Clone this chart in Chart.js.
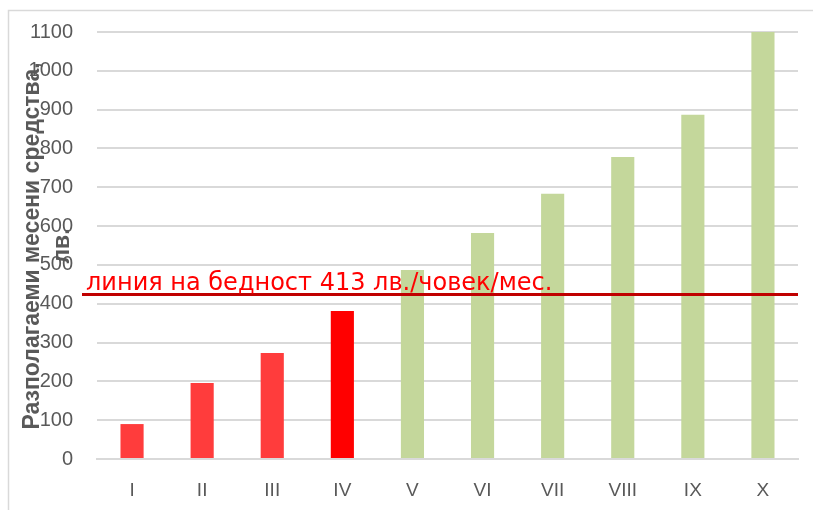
<!DOCTYPE html>
<html>
<head>
<meta charset="utf-8">
<script src="https://cdn.jsdelivr.net/npm/chart.js@4"></script>
<style>
  html, body { margin: 0; padding: 0; background: #fff; }
  #wrap { width: 813px; height: 510px; position: relative; }
</style>
</head>
<body>
<div id="wrap"><canvas id="chart" width="813" height="510"></canvas></div>
<script>
// deciles and available monthly means (lv.)
const deciles = ['I', 'II', 'III', 'IV', 'V', 'VI', 'VII', 'VIII', 'IX', 'X'];
const incomes = [90, 196, 273, 381, 487, 582, 683, 778, 887, 1100];
const barColors = ['#ff3c3c', '#ff3c3c', '#ff3c3c', '#ff0000', '#c4d79b', '#c4d79b', '#c4d79b', '#c4d79b', '#c4d79b', '#c4d79b'];
const povertyLine = 424;
const povertyLabel = 'линия на бедност 413 лв./човек/мес.';
const yTitle = ['Разполагаеми месени средства,', 'лв.'];

const FONT = '"Liberation Sans", Arial, sans-serif';

// outer frame, y title and poverty line
const extras = {
  id: 'extras',
  beforeDraw(chart) {
    const ctx = chart.ctx;
    ctx.save();
    ctx.strokeStyle = '#d9d9d9';
    ctx.lineWidth = 1.5;
    ctx.strokeRect(8.5, 10.5, 830, 520);
    ctx.restore();
  },
  afterDraw(chart) {
    const ctx = chart.ctx;
    const area = chart.chartArea;
    const y = chart.scales.y.getPixelForValue(povertyLine);

    // axis title, drawn over the tick labels like the original
    ctx.save();
    ctx.translate(33, 246);
    ctx.rotate(-Math.PI / 2);
    ctx.fillStyle = '#595959';
    ctx.font = 'bold 23px ' + FONT;
    ctx.textAlign = 'center';
    ctx.textBaseline = 'middle';
    ctx.fillText(yTitle[0], 0, 0);
    ctx.fillText(yTitle[1], 0, 30);
    ctx.restore();

    // poverty line
    ctx.save();
    ctx.strokeStyle = '#c00000';
    ctx.lineWidth = 3;
    ctx.beginPath();
    ctx.moveTo(82, y);
    ctx.lineTo(area.right, y);
    ctx.stroke();
    ctx.fillStyle = '#ff0000';
    ctx.font = '24px "DejaVu Sans", sans-serif';
    ctx.textBaseline = 'alphabetic';
    ctx.fillText(povertyLabel, 86, y - 4);
    ctx.restore();
  }
};

new Chart(document.getElementById('chart'), {
  type: 'bar',
  data: {
    labels: deciles,
    datasets: [{
      data: incomes,
      backgroundColor: barColors,
      borderWidth: 0,
      barPercentage: 0.33,
      categoryPercentage: 1
    }]
  },
  options: {
    responsive: false,
    animation: false,
    layout: { padding: { left: 0, right: 15, top: 32, bottom: 0 } },
    plugins: {
      legend: { display: false },
      tooltip: { enabled: false }
    },
    scales: {
      x: {
        grid: { display: false, drawTicks: false },
        border: { color: '#d9d9d9', width: 2 },
        ticks: { color: '#595959', font: { family: FONT, size: 19 }, padding: 20 },
        afterFit(scale) { scale.height = 51; scale.paddingLeft = 0; scale.paddingRight = 0; }
      },
      y: {
        min: 0,
        max: 1100,
        ticks: {
          stepSize: 100, color: '#595959', font: { family: FONT, size: 20 }, padding: 24,
          callback: (v) => String(v)
        },
        grid: { color: '#d9d9d9', lineWidth: 2, drawTicks: false },
        border: { display: false },
        afterFit(scale) { scale.width = 97; scale.paddingTop = 0; scale.paddingBottom = 0; }
      }
    }
  },
  plugins: [extras]
});
</script>
</body>
</html>
